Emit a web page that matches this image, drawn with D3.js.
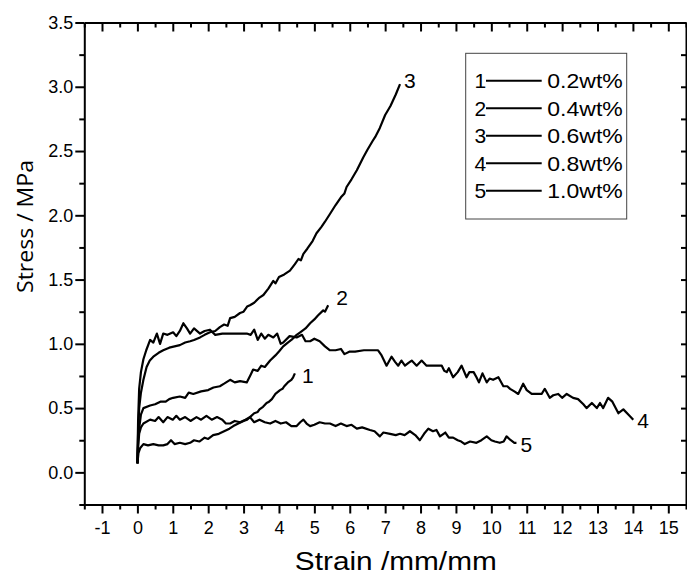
<!DOCTYPE html>
<html>
<head>
<meta charset="utf-8">
<script src="https://cdn.jsdelivr.net/npm/d3@7"></script>
<style>
  html, body { margin: 0; padding: 0; background: #fff; }
  svg { display: block; }
  text { fill: #000; }
</style>
</head>
<body>
<svg id="chart" width="687" height="575"></svg>
<script>
// ---- data ----
const seriesIds = ["1", "2", "3", "4", "5"];
const legendLabels = ["0.2wt%", "0.4wt%", "0.6wt%", "0.8wt%", "1.0wt%"];
const xTickValues = [-1, 0, 1, 2, 3, 4, 5, 6, 7, 8, 9, 10, 11, 12, 13, 14, 15];
const yTickValues = [0.0, 0.5, 1.0, 1.5, 2.0, 2.5, 3.0, 3.5];
const xTitle = "Strain /mm/mm";
const yTitle = "Stress / MPa";

const curve1 = [[0,0.07],[0.03,0.15],[0.08,0.19],[0.17,0.22],[0.3,0.21],[0.45,0.22],[0.6,0.21],[0.73,0.21],[0.85,0.22],[0.95,0.25],[1.05,0.22],[1.2,0.23],[1.35,0.22],[1.49,0.23],[1.6,0.25],[1.75,0.24],[1.9,0.27],[2.0,0.26],[2.14,0.29],[2.3,0.30],[2.45,0.32],[2.6,0.34],[2.71,0.36],[2.85,0.38],[3.0,0.40],[3.1,0.41],[3.18,0.43],[3.3,0.46],[3.4,0.47],[3.45,0.49],[3.55,0.51],[3.65,0.54],[3.72,0.55],[3.8,0.57],[3.9,0.61],[4.03,0.64],[4.1,0.65],[4.15,0.67],[4.25,0.70],[4.35,0.72],[4.4,0.74],[4.45,0.77]];
const curve2 = [[0,0.07],[0.03,0.3],[0.1,0.45],[0.17,0.50],[0.36,0.52],[0.5,0.53],[0.65,0.55],[0.8,0.55],[0.9,0.57],[1.01,0.58],[1.2,0.59],[1.35,0.58],[1.45,0.62],[1.58,0.61],[1.8,0.63],[2.0,0.64],[2.15,0.66],[2.33,0.67],[2.45,0.69],[2.62,0.72],[2.75,0.70],[2.9,0.71],[3.09,0.70],[3.2,0.76],[3.27,0.80],[3.4,0.79],[3.5,0.83],[3.6,0.82],[3.75,0.87],[3.9,0.91],[4.0,0.94],[4.12,0.98],[4.25,1.01],[4.35,1.03],[4.5,1.07],[4.6,1.09],[4.75,1.12],[4.88,1.16],[5.0,1.19],[5.1,1.22],[5.25,1.26],[5.3,1.25],[5.39,1.30]];
const curve3 = [[0,0.07],[0.02,0.3],[0.05,0.5],[0.1,0.62],[0.17,0.72],[0.26,0.82],[0.35,0.87],[0.45,0.90],[0.6,0.93],[0.73,0.95],[0.9,0.97],[1.05,0.98],[1.2,0.99],[1.35,1.01],[1.49,1.02],[1.6,1.03],[1.77,1.05],[1.9,1.07],[2.05,1.09],[2.2,1.10],[2.33,1.13],[2.45,1.15],[2.55,1.14],[2.62,1.20],[2.75,1.21],[2.9,1.24],[3.0,1.25],[3.1,1.29],[3.18,1.30],[3.3,1.32],[3.45,1.36],[3.56,1.38],[3.7,1.43],[3.84,1.49],[3.9,1.47],[4.0,1.52],[4.15,1.54],[4.31,1.57],[4.45,1.62],[4.55,1.66],[4.62,1.65],[4.69,1.70],[4.8,1.74],[4.95,1.80],[5.06,1.86],[5.2,1.91],[5.3,1.95],[5.44,2.01],[5.6,2.08],[5.75,2.14],[5.85,2.17],[5.91,2.22],[6.05,2.28],[6.2,2.35],[6.38,2.45],[6.5,2.51],[6.65,2.58],[6.72,2.61],[6.85,2.68],[7.0,2.78],[7.15,2.85],[7.3,2.94],[7.42,3.02]];
const curve4 = [[0,0.07],[0.02,0.4],[0.05,0.65],[0.1,0.78],[0.17,0.88],[0.25,0.95],[0.36,1.03],[0.45,1.01],[0.55,1.08],[0.64,1.0],[0.73,1.08],[0.85,1.07],[1.01,1.09],[1.1,1.06],[1.2,1.10],[1.3,1.16],[1.4,1.12],[1.49,1.08],[1.6,1.12],[1.77,1.08],[1.9,1.10],[2.05,1.11],[2.2,1.07],[2.4,1.08],[2.7,1.08],[3.09,1.08],[3.2,1.07],[3.3,1.11],[3.4,1.03],[3.5,1.08],[3.6,1.04],[3.7,1.07],[3.84,1.05],[3.95,1.08],[4.05,1.0],[4.12,1.01],[4.3,1.06],[4.5,1.05],[4.65,1.07],[4.75,1.02],[4.88,1.02],[5.0,1.04],[5.15,1.02],[5.3,0.98],[5.44,0.95],[5.6,0.95],[5.75,0.96],[5.85,0.92],[6.0,0.94],[6.15,0.94],[6.4,0.95],[6.57,0.95],[6.8,0.95],[6.9,0.91],[7.04,0.83],[7.18,0.90],[7.28,0.86],[7.37,0.83],[7.46,0.87],[7.56,0.83],[7.65,0.85],[7.75,0.87],[7.89,0.83],[8.03,0.87],[8.17,0.83],[8.6,0.83],[8.67,0.79],[8.74,0.78],[8.8,0.81],[8.92,0.74],[9.05,0.78],[9.16,0.83],[9.3,0.74],[9.38,0.78],[9.5,0.78],[9.58,0.74],[9.65,0.70],[9.75,0.77],[9.87,0.70],[9.95,0.73],[10.05,0.72],[10.2,0.74],[10.34,0.67],[10.45,0.67],[10.53,0.65],[10.65,0.63],[10.76,0.61],[10.9,0.69],[11.0,0.64],[11.14,0.61],[11.42,0.61],[11.51,0.65],[11.65,0.58],[11.75,0.60],[11.89,0.61],[12.0,0.58],[12.13,0.61],[12.31,0.58],[12.45,0.57],[12.6,0.53],[12.69,0.50],[12.84,0.54],[12.98,0.50],[13.07,0.54],[13.16,0.50],[13.3,0.58],[13.42,0.55],[13.59,0.46],[13.73,0.49],[13.87,0.45],[14.01,0.41]];
const curve5 = [[0,0.07],[0.02,0.2],[0.05,0.3],[0.1,0.35],[0.17,0.38],[0.36,0.41],[0.5,0.40],[0.6,0.43],[0.73,0.39],[0.85,0.43],[1.0,0.41],[1.1,0.44],[1.2,0.41],[1.35,0.43],[1.5,0.40],[1.67,0.43],[1.8,0.41],[1.95,0.44],[2.1,0.41],[2.25,0.43],[2.4,0.41],[2.5,0.38],[2.62,0.38],[2.75,0.40],[2.9,0.39],[3.05,0.41],[3.18,0.43],[3.3,0.39],[3.45,0.41],[3.6,0.39],[3.75,0.38],[3.9,0.40],[4.05,0.38],[4.2,0.39],[4.35,0.36],[4.5,0.36],[4.6,0.39],[4.69,0.41],[4.78,0.38],[4.88,0.36],[5.0,0.37],[5.15,0.39],[5.3,0.38],[5.44,0.38],[5.6,0.36],[5.75,0.38],[5.91,0.36],[6.05,0.37],[6.2,0.34],[6.35,0.35],[6.57,0.33],[6.7,0.32],[6.85,0.28],[6.95,0.31],[7.14,0.30],[7.3,0.29],[7.42,0.30],[7.55,0.29],[7.7,0.32],[7.85,0.29],[7.98,0.25],[8.1,0.30],[8.22,0.34],[8.35,0.32],[8.45,0.33],[8.55,0.28],[8.7,0.31],[8.8,0.27],[8.92,0.27],[9.05,0.25],[9.15,0.24],[9.25,0.22],[9.4,0.24],[9.58,0.23],[9.72,0.25],[9.87,0.28],[10.0,0.25],[10.1,0.24],[10.24,0.23],[10.35,0.24],[10.43,0.28],[10.55,0.25],[10.65,0.23],[10.71,0.23]];

const seriesValues = [curve1, curve2, curve3, curve4, curve5];
// label offsets (px) from each curve's end point
const labelOffsets = [[7, 10], [8, 0], [4, 4], [4, 8], [4, 9]];

// ---- layout ----
const svg = d3.select("#chart");
const L = 84.3, R = 686, T = 22.5, B = 504.5;
const x = d3.scaleLinear().domain([-1.5, 15.5]).range([L, R]);
const y = d3.scaleLinear().domain([-0.25, 3.5]).range([B, T]);

const xMinor = d3.range(-1.5, 15.51, 0.5).filter(v => Math.abs(v - Math.round(v)) > 0.01);
const yMinor = d3.range(-0.25, 3.5, 0.5);

const font = "'Liberation Sans', Arial, sans-serif";

function styleAxis(g) {
  g.selectAll("path.domain").attr("stroke", "#000").attr("stroke-width", 2);
  g.selectAll(".tick line").attr("stroke", "#000").attr("stroke-width", 2);
  g.selectAll("text").attr("font-family", font).attr("font-size", 18).attr("fill", "#000");
}

// bottom axis
const gB = svg.append("g").attr("transform", `translate(0,${B})`);
gB.call(d3.axisBottom(x).tickValues(xMinor).tickSize(5).tickSizeOuter(0).tickFormat(""));
gB.append("g").call(d3.axisBottom(x).tickValues(xTickValues).tickSize(9).tickSizeOuter(0).tickFormat(d => String(d)))
  .call(g => g.select("path.domain").remove());
styleAxis(gB);
gB.selectAll(".tick text").attr("y", 17).attr("dy", "0.71em");

// top axis (inward ticks)
const gT = svg.append("g").attr("transform", `translate(0,${T})`);
gT.call(d3.axisTop(x).tickValues(xMinor).tickSize(-5).tickSizeOuter(0).tickFormat(""));
gT.append("g").call(d3.axisTop(x).tickValues(xTickValues).tickSize(-9).tickSizeOuter(0).tickFormat(""))
  .call(g => g.select("path.domain").remove());
styleAxis(gT);

// left axis
const gL = svg.append("g").attr("transform", `translate(${L},0)`);
gL.call(d3.axisLeft(y).tickValues(yMinor).tickSize(5).tickSizeOuter(0).tickFormat(""));
gL.append("g").call(d3.axisLeft(y).tickValues(yTickValues).tickSize(9).tickSizeOuter(0).tickFormat(d => d.toFixed(1)))
  .call(g => g.select("path.domain").remove());
styleAxis(gL);
gL.selectAll(".tick text").attr("x", -11);

// right axis (inward ticks)
const gR = svg.append("g").attr("transform", `translate(${R},0)`);
gR.call(d3.axisRight(y).tickValues(yMinor).tickSize(-5).tickSizeOuter(0).tickFormat(""));
gR.append("g").call(d3.axisRight(y).tickValues(yTickValues).tickSize(-5).tickSizeOuter(0).tickFormat(""))
  .call(g => g.select("path.domain").remove());
styleAxis(gR);

// axis titles
svg.append("text")
  .attr("x", 395.8).attr("y", 569.5)
  .attr("text-anchor", "middle")
  .attr("font-family", font).attr("font-size", 26)
  .attr("textLength", 202).attr("lengthAdjust", "spacingAndGlyphs")
  .text(xTitle);

svg.append("text")
  .attr("transform", "translate(33,226.5) rotate(-90)")
  .attr("text-anchor", "middle")
  .attr("font-family", "'Open Sans', sans-serif").attr("font-size", 22)
  .attr("textLength", 133).attr("lengthAdjust", "spacingAndGlyphs")
  .text(yTitle);

// curves
const line = d3.line().x(d => x(d[0])).y(d => y(d[1]));
svg.append("g").selectAll("path")
  .data(seriesValues)
  .join("path")
  .attr("d", line)
  .attr("fill", "none")
  .attr("stroke", "#000")
  .attr("stroke-width", 2.2)
  .attr("stroke-linejoin", "round");

// end labels
svg.append("g").selectAll("text")
  .data(seriesValues)
  .join("text")
  .attr("x", (d, i) => x(d[d.length - 1][0]) + labelOffsets[i][0])
  .attr("y", (d, i) => y(d[d.length - 1][1]) + labelOffsets[i][1])
  .attr("font-family", font).attr("font-size", 21)
  .text((d, i) => seriesIds[i]);

// legend
const lg = svg.append("g");
lg.append("rect")
  .attr("x", 465.7).attr("y", 53.3).attr("width", 161).attr("height", 165.7)
  .attr("fill", "#fff").attr("stroke", "#444").attr("stroke-width", 1);
const rows = lg.selectAll("g.row").data(legendLabels).join("g")
  .attr("class", "row")
  .attr("transform", (d, i) => `translate(0,${88.3 + i * 27.5})`);
rows.append("text")
  .attr("x", 474.5).attr("y", 0)
  .attr("font-family", font).attr("font-size", 21)
  .text((d, i) => seriesIds[i]);
rows.append("line")
  .attr("x1", 486).attr("x2", 541.7).attr("y1", -7.5).attr("y2", -7.5)
  .attr("stroke", "#000").attr("stroke-width", 2);
rows.append("text")
  .attr("x", 547.3).attr("y", 0)
  .attr("font-family", font).attr("font-size", 21)
  .attr("textLength", 75.5).attr("lengthAdjust", "spacingAndGlyphs")
  .text(d => d);
</script>
</body>
</html>
